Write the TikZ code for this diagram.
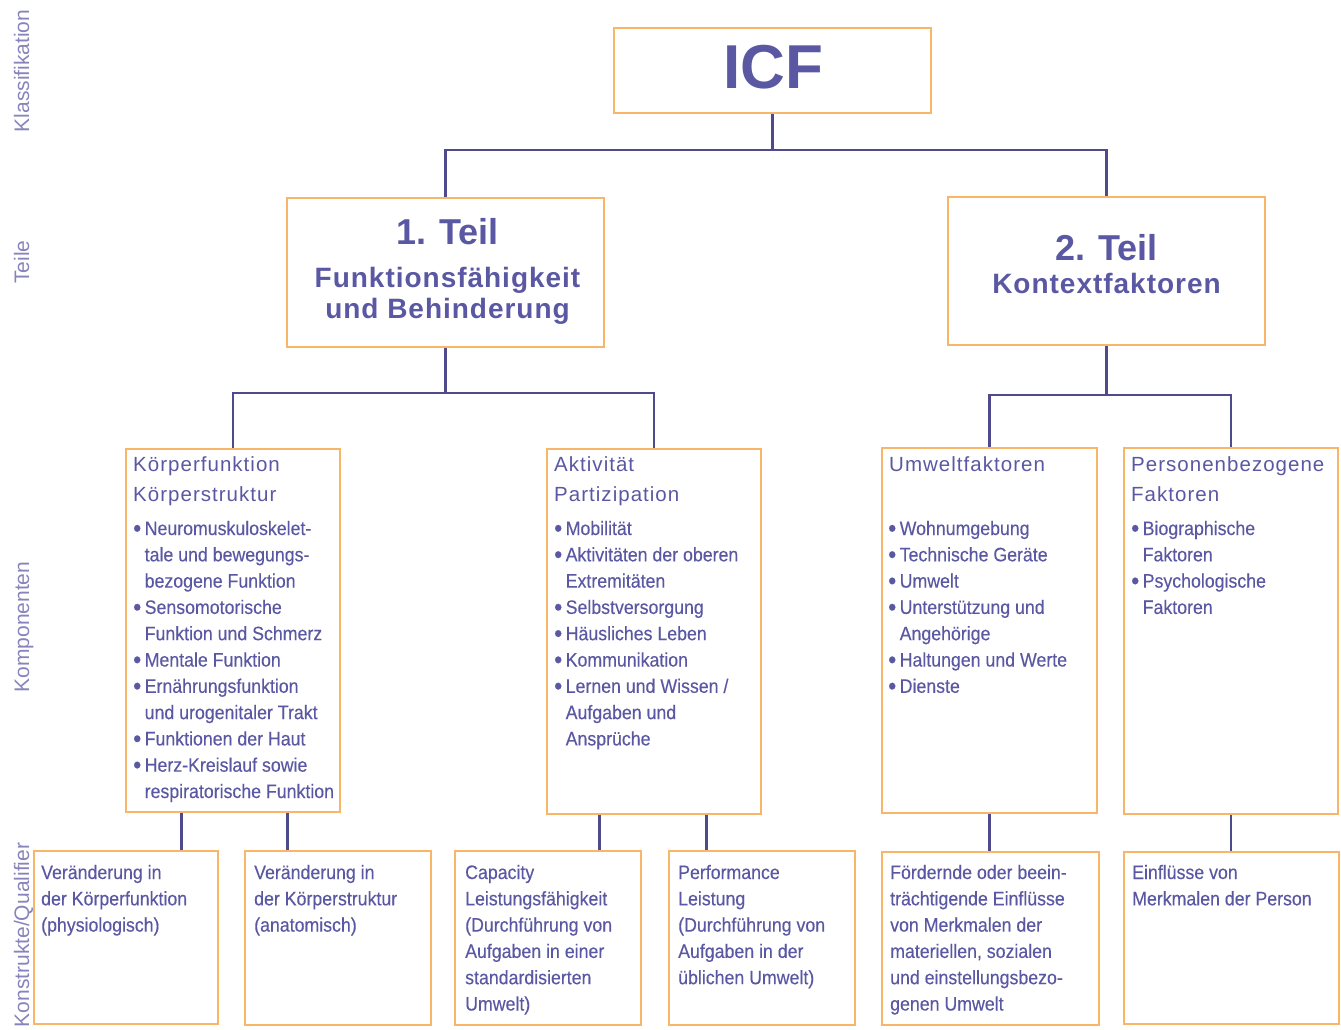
\documentclass[tikz,border=0pt]{standalone}
\usepackage{fontspec}
\setmainfont{Liberation Sans}
\newfontfamily\bodyf[FakeStretch=0.91,FakeBold=0.3]{Liberation Sans}
\newfontfamily\headf[LetterSpace=5]{Liberation Sans}
\newfontfamily\titlef[LetterSpace=3.5]{Liberation Sans}
\usetikzlibrary{calc}
\definecolor{tc}{RGB}{90,88,162}
\definecolor{lc}{RGB}{78,74,140}
\definecolor{oc}{RGB}{248,182,105}
\definecolor{sc}{RGB}{135,132,188}
\newlength\bi \setlength\bi{11.5pt}
\newcommand\bul[1]{\par\hangindent=\bi\hangafter=1\noindent\makebox[\bi][l]{\raisebox{-0.09em}{\scalebox{1.3}{\textbullet}}}#1}
\newcommand\bodytxt[1]{\parbox[t]{260pt}{\bodyf\fontsize{19.5}{26.3}\selectfont #1}}
\newcommand\headtxt[1]{\parbox[t]{260pt}{\headf\fontsize{20.5}{30}\selectfont #1}}
\tikzset{
  box/.style={draw=oc, line width=2pt, rectangle, inner sep=0pt, anchor=north west},
  conn/.style={draw=lc, line width=2.4pt},
  txt/.style={text=tc, inner sep=0pt, anchor=base west},
  ttl/.style={text=tc, inner sep=0pt, anchor=base},
  side/.style={text=sc, inner sep=0pt, anchor=base, rotate=90, font=\fontsize{21}{24}\selectfont}
}
\begin{document}
\begin{tikzpicture}[x=1pt,y=-1pt]
\useasboundingbox (0,0) rectangle (1341,1029);

% side labels
\node[side] (sKl) at (29,71) {Klassifikation};
\node[side] (sTe) at (29,262) {Teile};
\node[side] (sKo) at (29,627) {Komponenten};
\node[side] (sKq) at (29,935) {Konstrukte/Qualifier};

% boxes
\node[box, minimum width=317pt, minimum height=85pt] (icf) at (613,27) {};
\node[box, minimum width=317pt, minimum height=149pt] (t1) at (286,197) {};
\node[box, minimum width=317pt, minimum height=148pt] (t2) at (947,196) {};
\node[box, minimum width=214pt, minimum height=363pt] (kf) at (125,448) {};
\node[box, minimum width=214pt, minimum height=365pt] (akt) at (546,448) {};
\node[box, minimum width=215pt, minimum height=365pt] (umw) at (881,447) {};
\node[box, minimum width=214pt, minimum height=366pt] (pers) at (1123,447) {};
\node[box, minimum width=184pt, minimum height=173pt] (q1) at (33,850) {};
\node[box, minimum width=186pt, minimum height=174pt] (q2) at (244,850) {};
\node[box, minimum width=186pt, minimum height=174pt] (q3) at (454,850) {};
\node[box, minimum width=186pt, minimum height=174pt] (q4) at (668,850) {};
\node[box, minimum width=217pt, minimum height=173pt] (q5) at (881,851) {};
\node[box, minimum width=215pt, minimum height=172pt] (q6) at (1123,851) {};

% connectors
\coordinate (bus1) at (0,150);
\coordinate (bus2) at (0,393);
\coordinate (bus3) at (0,395);
\draw[conn] (icf.south) -- (icf.south |- bus1) -| (t1.north);
\draw[conn] (icf.south |- bus1) -| (t2.north);
\draw[conn] (t1.south) -- (t1.south |- bus2) -| (kf.north);
\draw[conn] (t1.south |- bus2) -| (akt.north);
\draw[conn] (t2.south) -- (t2.south |- bus3) -| (umw.north);
\draw[conn] (t2.south |- bus3) -| (pers.north);
\coordinate (c1) at ($(kf.south west)!0.262!(kf.south east)$);
\coordinate (c2) at ($(kf.south west)!0.752!(kf.south east)$);
\coordinate (c3) at ($(akt.south west)!0.248!(akt.south east)$);
\coordinate (c4) at ($(akt.south west)!0.743!(akt.south east)$);
\draw[conn] (c1) -- (c1 |- q1.north);
\draw[conn] (c2) -- (c2 |- q2.north);
\draw[conn] (c3) -- (c3 |- q3.north);
\draw[conn] (c4) -- (c4 |- q4.north);
\draw[conn] (umw.south) -- (umw.south |- q5.north);
\draw[conn] (pers.south) -- (pers.south |- q6.north);

% titles
\node[ttl, font=\bfseries\fontsize{62}{62}\selectfont] (icfT) at ($(icf.north)+(1,61)$) {ICF};
\node[ttl, font=\bfseries\fontsize{36}{36}\selectfont] (t1a) at ($(t1.north)+(2,47)$) {1. Teil};
\node[ttl, font=\titlef\bfseries\fontsize{28}{28}\selectfont] (t1b) at ($(t1.north)+(2,90)$) {Funktionsfähigkeit};
\node[ttl, font=\titlef\bfseries\fontsize{28}{28}\selectfont] (t1c) at ($(t1.north)+(2,121)$) {und Behinderung};
\node[ttl, font=\bfseries\fontsize{36}{36}\selectfont] (t2a) at ($(t2.north)+(0,64)$) {2. Teil};
\node[ttl, font=\titlef\bfseries\fontsize{28}{28}\selectfont] (t2b) at ($(t2.north)+(0,97)$) {Kontextfaktoren};

% component headings
\node[txt] (kfH) at ($(kf.north west)+(8,23)$) {\headtxt{Körperfunktion\\Körperstruktur}};
\node[txt] (aktH) at ($(akt.north west)+(8,23)$) {\headtxt{Aktivität\\Partizipation}};
\node[txt] (umwH) at ($(umw.north west)+(8,24)$) {\headtxt{Umweltfaktoren}};
\node[txt] (persH) at ($(pers.north west)+(8,24)$) {\headtxt{Personenbezogene\\Faktoren}};

% component lists
\node[txt] (kfL) at ($(kf.north west)+(8,87)$) {\bodytxt{%
\bul{Neuromuskuloskelet-\newline tale und bewegungs-\newline bezogene Funktion}
\bul{Sensomotorische\newline Funktion und Schmerz}
\bul{Mentale Funktion}
\bul{Ernährungsfunktion\newline und urogenitaler Trakt}
\bul{Funktionen der Haut}
\bul{Herz-Kreislauf sowie\newline respiratorische Funktion}}};
\node[txt] (aktL) at ($(akt.north west)+(8,87)$) {\bodytxt{%
\bul{Mobilität}
\bul{Aktivitäten der oberen\newline Extremitäten}
\bul{Selbstversorgung}
\bul{Häusliches Leben}
\bul{Kommunikation}
\bul{Lernen und Wissen /\newline Aufgaben und\newline Ansprüche}}};
\node[txt] (umwL) at ($(umw.north west)+(7,88)$) {\bodytxt{%
\bul{Wohnumgebung}
\bul{Technische Geräte}
\bul{Umwelt}
\bul{Unterstützung und\newline Angehörige}
\bul{Haltungen und Werte}
\bul{Dienste}}};
\node[txt] (persL) at ($(pers.north west)+(8,88)$) {\bodytxt{%
\bul{Biographische\newline Faktoren}
\bul{Psychologische\newline Faktoren}}};

% qualifier texts
\node[txt] (q1T) at ($(q1.north west)+(8,29)$) {\bodytxt{Veränderung in\\der Körperfunktion\\(physiologisch)}};
\node[txt] (q2T) at ($(q2.north west)+(10,29)$) {\bodytxt{Veränderung in\\der Körperstruktur\\(anatomisch)}};
\node[txt] (q3T) at ($(q3.north west)+(11,29)$) {\bodytxt{Capacity\\Leistungsfähigkeit\\(Durchführung von\\Aufgaben in einer\\standardisierten\\Umwelt)}};
\node[txt] (q4T) at ($(q4.north west)+(10,29)$) {\bodytxt{Performance\\Leistung\\(Durchführung von\\Aufgaben in der\\üblichen Umwelt)}};
\node[txt] (q5T) at ($(q5.north west)+(9,28)$) {\bodytxt{Fördernde oder beein-\\trächtigende Einflüsse\\von Merkmalen der\\materiellen, sozialen\\und einstellungsbezo-\\genen Umwelt}};
\node[txt] (q6T) at ($(q6.north west)+(9,28)$) {\bodytxt{Einflüsse von\\Merkmalen der Person}};
\end{tikzpicture}
\end{document}
